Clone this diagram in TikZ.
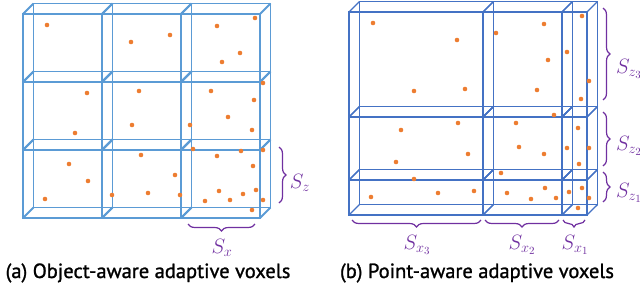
\documentclass[tikz,border=0pt]{standalone}
\usepackage{fontspec}
\setsansfont{PT Sans}
\newfontfamily\capfont[FakeBold=1.2]{PT Sans}
\usepackage{xcolor}
\usepackage{tikz}
\usetikzlibrary{decorations.pathreplacing}
\definecolor{voxA}{HTML}{5B9BD5}
\definecolor{voxB}{HTML}{4472C4}
\definecolor{ptorange}{HTML}{ED7D31}
\definecolor{brpurple}{HTML}{7030A0}
\newcommand{\voxel}[5]{%
  \draw[#5] (#1,#2) rectangle ++(#3,#4);
  \draw[#5] (#1+10.5,#2-10.5) rectangle ++(#3,#4);
  \draw[#5] (#1,#2) -- ++(10.5,-10.5) (#1+#3,#2) -- ++(10.5,-10.5)
            (#1,#2+#4) -- ++(10.5,-10.5) (#1+#3,#2+#4) -- ++(10.5,-10.5);}

\begin{document}
\begin{tikzpicture}[x=1pt,y=-1pt,
  edgeA/.style={voxA,line width=1.8pt},
  edgeB/.style={voxB,line width=1.4pt},
  dot/.style={fill=ptorange},
  brz/.style={brpurple,line width=1.2pt,decorate,decoration={brace,amplitude=7pt}},
  brx/.style={brz,decoration={brace,mirror,amplitude=7pt}},
  lbl/.style={brpurple,font=\fontsize{21}{23}\selectfont,inner sep=0pt},
  captext/.style={font=\capfont\fontsize{20.5}{23}\selectfont,inner sep=0pt}]
\useasboundingbox (0,0) rectangle (640,284);
% ---- (a) OBJECT-AWARE ----
\foreach \x in {23,102,181}{
  \foreach \y in {14,82,150}{
    \voxel{\x}{\y}{79}{68}{edgeA}}}
\foreach \p in {(47,25),(131,42),(170,35),(217,26),(255,18),(240,53),(222,62),
  (87,93),(75,133),(139,91),(132,125),(190,125),(211,91),(263,83),(254,100),
  (228,117),(252,130),(69,164),(88,181),(45,199),(141,155),(175,175),(148,193),
  (112,195),(180,195),(193,149),(217,156),(241,151),(263,150),(253,166),
  (219,191),(243,194),(256,190),(205,201),(230,200),(263,200),(252,210)}
  \fill[dot] \p circle (2.3);
\draw[brz] (279,147) -- (279,203);
\draw[brx] (188,224) -- (255,224);
\node[lbl] (sz) at (300,183) {$S_z$};
\node[lbl] (sx) at (222,248) {$S_x$};
\node[captext,anchor=base] (capa) at (148,278) {(a) Object-aware adaptive voxels};
% ---- (b) POINT-AWARE ----
\foreach \x/\w in {349/134,483/79,562/25}{
  \foreach \y/\h in {12/105,117/63,180/35}{
    \voxel{\x}{\y}{\w}{\h}{edgeB}}}
\foreach \p in {(373,23),(457,40),(414,91),(465,89),(496,33),(544,24),(548,60),
  (537,90),(567,52),(582,16),(589,81),(581,99),(554,115),(401,130),(458,123),
  (468,154),(396,162),(516,123),(519,147),(544,154),(578,128),(567,148),
  (589,148),(579,164),(414,179),(371,197),(438,193),(474,191),(501,173),
  (507,193),(531,199),(545,188),(556,198),(569,192),(582,188),(589,198),(578,208)}
  \fill[dot] \p circle (2.3);
\draw[brz] (603,8) -- (603,100);
\draw[brz] (603,112) -- (603,166);
\draw[brz] (603,172) -- (603,202);
\draw[brx] (352,220) -- (481,220);
\draw[brx] (485,220) -- (559,220);
\draw[brx] (563,220) -- (585,220);
\node[lbl] (sz3) at (629,69) {$S_{z_3}$};
\node[lbl] (sz2) at (629,146) {$S_{z_2}$};
\node[lbl] (sz1) at (629,193) {$S_{z_1}$};
\node[lbl] (sx3) at (417,245) {$S_{x_3}$};
\node[lbl] (sx2) at (522,245) {$S_{x_2}$};
\node[lbl] (sx1) at (575,245) {$S_{x_1}$};
\node[captext,anchor=base] (capb) at (477,278) {(b) Point-aware adaptive voxels};
\end{tikzpicture}
\end{document}
